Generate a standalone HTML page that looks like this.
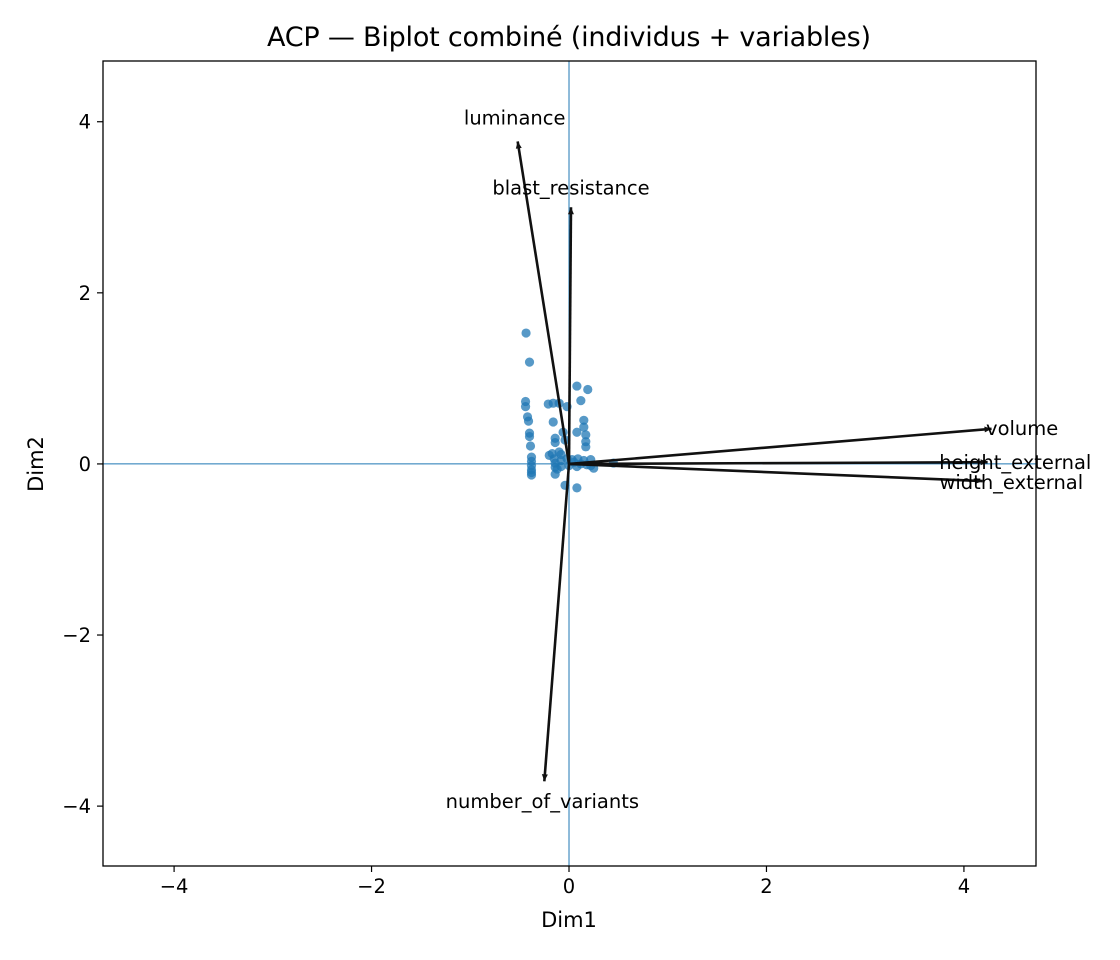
<!DOCTYPE html>
<html><head><meta charset="utf-8"><style>
body{margin:0;background:#fff;}
svg{display:block;font-family:"DejaVu Sans","Liberation Sans",sans-serif;}
</style></head><body>
<svg id="chart" width="1120" height="960">
<text x="569" y="46" font-size="27" text-anchor="middle" textLength="604">ACP — Biplot combiné (individus + variables)</text>
<g id="plot"></g>
<text x="569" y="927" font-size="21" text-anchor="middle">Dim1</text>
<text x="43" y="464" font-size="21" text-anchor="middle" transform="rotate(-90 43 464)">Dim2</text>
</svg>
<script>
const ptX=[-0.435,-0.40,0.08,0.19,0.12,-0.44,-0.44,-0.21,-0.16,-0.10,-0.02,-0.42,-0.41,-0.16,0.15,0.15,0.08,-0.40,-0.40,-0.06,0.17,0.17,0.17,-0.14,-0.14,-0.39,-0.04,-0.38,-0.38,-0.38,-0.38,-0.38,-0.38,-0.17,-0.15,-0.14,-0.14,-0.14,-0.08,-0.08,-0.08,-0.10,-0.02,0.03,0.09,0.15,0.22,0.25,0.08,0.18,0.12,0.45,-0.04,0.08,-0.20,-0.12,0.00,0.05,0.22];
const ptY=[1.53,1.19,0.91,0.87,0.74,0.73,0.67,0.70,0.71,0.71,0.67,0.55,0.50,0.49,0.51,0.43,0.37,0.36,0.32,0.37,0.34,0.26,0.20,0.30,0.25,0.21,0.28,0.08,0.03,-0.02,-0.07,-0.10,-0.13,0.12,0.06,0.01,-0.04,-0.12,0.11,0.04,-0.03,0.14,0.06,0.05,0.06,0.04,0.05,-0.05,-0.03,-0.01,0.00,0.01,-0.25,-0.28,0.10,-0.06,-0.02,0.02,-0.02];
const varNames=["luminance","blast_resistance","number_of_variants","volume","height_external","width_external"];
const varX=[-0.52,0.02,-0.25,4.28,4.24,4.19];
const varY=[3.77,3.00,-3.71,0.41,0.02,-0.20];
const lblX=[-0.55,0.02,-0.27,4.59,4.52,4.48];
const lblY=[4.05,3.23,-3.94,0.42,0.02,-0.21];
const xTicks=[-4,-2,0,2,4];
const yTicks=[-4,-2,0,2,4];
const L=103,R=1036,T=61,B=866,xmin=-4.72,xmax=4.73,ymin=-4.70,ymax=4.71;
const sx=v=>L+(v-xmin)/(xmax-xmin)*(R-L);
const sy=v=>B-(v-ymin)/(ymax-ymin)*(B-T);
const NS="http://www.w3.org/2000/svg";
const g=document.getElementById('plot');
function mk(t,a,p){const e=document.createElementNS(NS,t);for(const k in a)e.setAttribute(k,a[k]);(p||g).appendChild(e);return e;}
let e=mk('line',{x1:L,x2:R,y1:sy(0),y2:sy(0),stroke:'#1f77b4','stroke-width':1});


e=mk('line',{x1:sx(0),x2:sx(0),y1:T,y2:B,stroke:'#1f77b4','stroke-width':1});


ptX.forEach((x,i)=>{const c=mk('circle',{cx:sx(x),cy:sy(ptY[i]),r:4.6,fill:'#1f77b4','fill-opacity':0.75});

});
varNames.forEach((n,i)=>{
const x1=sx(0),y1=sy(0),x2=sx(varX[i]),y2=sy(varY[i]);
const ln=mk('line',{x1,y1,x2,y2,stroke:'#111','stroke-width':2.6});


const a=Math.atan2(y2-y1,x2-x1),h=7,w=3;
const p=[[x2,y2],[x2-h*Math.cos(a)+w*Math.sin(a),y2-h*Math.sin(a)-w*Math.cos(a)],[x2-h*Math.cos(a)-w*Math.sin(a),y2-h*Math.sin(a)+w*Math.cos(a)]];
const hd=mk('polygon',{points:p.map(q=>q.join(',')).join(' '),fill:'#111'});


const t=mk('text',{x:sx(lblX[i]),y:sy(lblY[i])+7,'font-size':19.5,'text-anchor':'middle',fill:'#000'});
t.textContent=n;


});
e=mk('rect',{x:L,y:T,width:R-L,height:B-T,fill:'none',stroke:'#000','stroke-width':1.3});


xTicks.forEach(v=>{const x=sx(v);
const tk=mk('line',{x1:x,x2:x,y1:B,y2:B+6,stroke:'#000','stroke-width':1.2});


const t=mk('text',{x:x,y:B+27,'font-size':19.5,'text-anchor':'middle'});
t.textContent=v<0?'\u2212'+(-v):v;

});
yTicks.forEach(v=>{const y=sy(v);
const tk=mk('line',{x1:L-6,x2:L,y1:y,y2:y,stroke:'#000','stroke-width':1.2});


const t=mk('text',{x:L-12,y:y+7,'font-size':19.5,'text-anchor':'end'});
t.textContent=v<0?'\u2212'+(-v):v;

});
</script>
</body></html>
